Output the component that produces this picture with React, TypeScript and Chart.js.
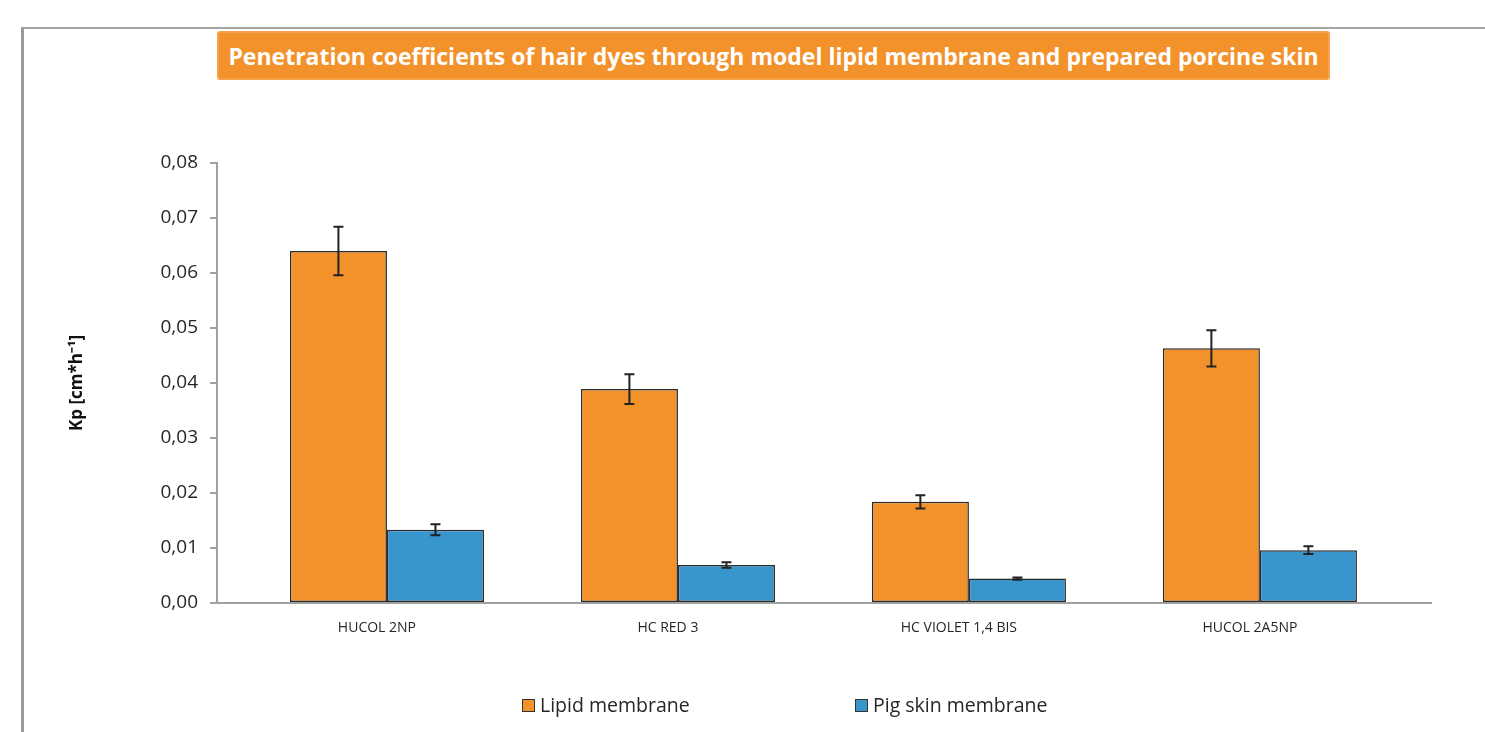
import React, { useEffect, useRef } from "react";
import { Chart, registerables } from "chart.js";

Chart.register(...registerables);

const categories = ["HUCOL 2NP", "HC RED 3", "HC VIOLET 1,4 BIS", "HUCOL 2A5NP"];
const lipidValues = [0.064, 0.0389, 0.0184, 0.0463];
const lipidErrors = [0.0044, 0.0027, 0.0012, 0.0033];
const pigValues = [0.0133, 0.0069, 0.00445, 0.0096];
const pigErrors = [0.001, 0.0005, 0.0002, 0.0007];
const seriesNames = ["Lipid membrane", "Pig skin membrane"];
const yTicks = [0, 0.01, 0.02, 0.03, 0.04, 0.05, 0.06, 0.07, 0.08];

const ORANGE = "#F3922B";
const BLUE = "#3896CD";
const AXIS = "#a0a0a0";
const TEXT = "#262626";

const errorBarPlugin = {
  id: "errorBars",
  afterDatasetsDraw(chart: any) {
    const ctx = chart.ctx;
    const y = chart.scales.y;
    const errs = [lipidErrors, pigErrors];
    chart.data.datasets.forEach((ds: any, di: number) => {
      const meta = chart.getDatasetMeta(di);
      meta.data.forEach((bar: any, i: number) => {
        const v = ds.data[i].y;
        const e = errs[di][i];
        const top = y.getPixelForValue(v + e);
        const bot = y.getPixelForValue(v - e);
        const x = bar.x;
        ctx.save();
        ctx.strokeStyle = "#222";
        ctx.lineWidth = 2;
        ctx.beginPath();
        ctx.moveTo(x, top);
        ctx.lineTo(x, bot);
        ctx.moveTo(x - 5, top);
        ctx.lineTo(x + 5, top);
        ctx.moveTo(x - 5, bot);
        ctx.lineTo(x + 5, bot);
        ctx.stroke();
        ctx.restore();
      });
    });
  },
};

export default function App() {
  const canvasRef = useRef<HTMLCanvasElement | null>(null);

  useEffect(() => {
    const canvas = canvasRef.current;
    if (!canvas) return;
    const chart = new Chart(canvas, {
      type: "bar",
      data: {
        datasets: [
          {
            label: seriesNames[0],
            data: lipidValues.map((v, i) => ({ x: i, y: v })),
            backgroundColor: ORANGE,
            borderColor: "#2a2a2a",
            borderWidth: 1.5,
            borderSkipped: false,
            categoryPercentage: 0.667,
            barPercentage: 1,
          },
          {
            label: seriesNames[1],
            data: pigValues.map((v, i) => ({ x: i, y: v })),
            backgroundColor: BLUE,
            borderColor: "#2a2a2a",
            borderWidth: 1.5,
            borderSkipped: false,
            categoryPercentage: 0.667,
            barPercentage: 1,
          },
        ],
      },
      options: {
        animation: false,
        responsive: false,
        maintainAspectRatio: false,
        layout: { padding: { left: 0, right: 54, top: 163, bottom: 0 } },
        plugins: {
          legend: { display: false },
          title: { display: false },
          tooltip: { enabled: false },
        },
        scales: {
          x: {
            type: "linear",
            offset: false,
            min: -0.584,
            max: 3.588,
            afterBuildTicks: (s: any) => {
              s.ticks = categories.map((_, i) => ({ value: i }));
            },
            afterFit: (s: any) => {
              s.height = 732 - 603;
            },
            ticks: {
              autoSkip: false,
              maxRotation: 0,
              padding: 17,
              labelOffset: -10,
              color: TEXT,
              font: { family: "Open Sans", size: 14 },
              callback: (v: any) => categories[v] ?? "",
            },
            grid: { display: false, drawTicks: false, offset: false },
            border: { display: true, color: AXIS, width: 2 },
          },
          y: {
            min: 0,
            max: 0.08,
            afterBuildTicks: (s: any) => {
              s.ticks = yTicks.map((v) => ({ value: v }));
            },
            afterFit: (s: any) => {
              s.width = 217;
            },
            ticks: {
              padding: 12,
              color: TEXT,
              font: { family: "Open Sans", size: 19 },
              callback: (v: any) => Number(v).toFixed(2).replace(".", ","),
            },
            grid: {
              drawOnChartArea: false,
              drawTicks: true,
              tickLength: 7,
              color: AXIS,
              lineWidth: 2,
            },
            border: { display: true, color: AXIS, width: 2 },
            title: {
              display: true,
              text: "Kp [cm*h⁻¹]",
              color: "#111",
              font: { family: "Open Sans", size: 17, weight: "bold" },
              padding: { top: 67, bottom: 0 },
            },
          },
        },
      },
      plugins: [errorBarPlugin],
    });
    return () => chart.destroy();
  }, []);

  return (
    <div style={{ position: "absolute", left: 0, top: 0, width: 1485, height: 732, background: "#fff", overflow: "hidden" }}>
      <div style={{ position: "absolute", left: 21, top: 27, width: 1470, height: 720, borderLeft: "3px solid #9a9a9a", borderTop: "2px solid #a5a5a5" }} />
      <canvas ref={canvasRef} width={1485} height={732} style={{ position: "absolute", left: 0, top: 0 }} />
      <div
        style={{
          position: "absolute",
          left: 217,
          top: 31,
          width: 1113,
          height: 49,
          boxSizing: "border-box",
          background: ORANGE,
          border: "2px solid #F6A24A",
          borderRadius: 3,
          color: "#fff",
          fontFamily: "Open Sans",
          fontWeight: 700,
          fontSize: 23,
          display: "flex",
          alignItems: "center",
          justifyContent: "center",
          whiteSpace: "nowrap",
        }}
      >
        Penetration coefficients of hair dyes through model lipid membrane and prepared porcine skin
      </div>
      <div
        style={{
          position: "absolute",
          top: 692,
          left: 0,
          width: 1485,
          height: 28,
          fontFamily: "Open Sans",
          fontSize: 19.5,
          color: TEXT,
        }}
      >
        <div style={{ position: "absolute", left: 522, top: 7, width: 11, height: 11, background: ORANGE, border: "1px solid #333" }} />
        <div style={{ position: "absolute", left: 540, top: 0, lineHeight: "26px" }}>{seriesNames[0]}</div>
        <div style={{ position: "absolute", left: 855, top: 7, width: 11, height: 11, background: BLUE, border: "1px solid #333" }} />
        <div style={{ position: "absolute", left: 873, top: 0, lineHeight: "26px" }}>{seriesNames[1]}</div>
      </div>
    </div>
  );
}
